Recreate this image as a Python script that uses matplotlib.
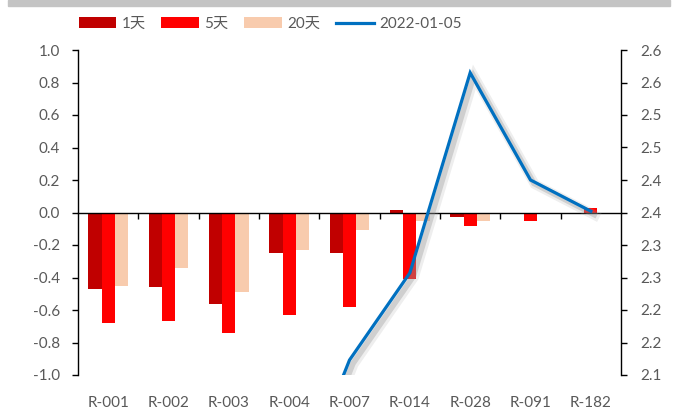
import numpy as np
import matplotlib
matplotlib.use("Agg")
import matplotlib.pyplot as plt
import matplotlib.transforms as mtransforms
import matplotlib.patheffects as pe
from matplotlib.patches import Rectangle

plt.rcParams['font.family'] = ['Lato', 'Noto Sans CJK SC', 'DejaVu Sans']

categories = ['R-001', 'R-002', 'R-003', 'R-004', 'R-007', 'R-014', 'R-028', 'R-091', 'R-182']
chg_1d = [-0.47, -0.46, -0.56, -0.25, -0.25, 0.015, -0.03, -0.005, -0.005]
chg_5d = [-0.68, -0.67, -0.74, -0.63, -0.58, -0.41, -0.08, -0.055, 0.03]
chg_20d = [-0.45, -0.34, -0.49, -0.23, -0.11, -0.05, -0.055, 0.0, 0.0]
rate_20220105 = [1.75, 1.82, 1.86, 1.89, 2.123, 2.257, 2.565, 2.40, 2.352]
series_names = ['1天', '5天', '20天', '2022-01-05']
left_ticks = [-1.0, -0.8, -0.6, -0.4, -0.2, 0.0, 0.2, 0.4, 0.6, 0.8, 1.0]
right_ticks = [2.10, 2.15, 2.20, 2.25, 2.30, 2.35, 2.40, 2.45, 2.50, 2.55, 2.60]
right_tick_labels = ['2.1', '2.2', '2.2', '2.3', '2.3', '2.4', '2.4', '2.5', '2.5', '2.6', '2.6']

c_1d = '#C00000'
c_5d = '#FF0000'
c_20d = '#F8CBAD'
c_line = '#0070C0'
txt = '#595959'
fs = 11

fig = plt.figure(figsize=(6.76, 4.18), dpi=100)
fig.patches.append(Rectangle((8 / 676, 1 - 6 / 418), 662 / 676, 6 / 418,
                             transform=fig.transFigure, color='#C4C4C4', zorder=0))

ax = fig.add_axes([78 / 676, 1 - 375 / 418, (621 - 78) / 676, (375 - 50) / 418])
x = np.arange(len(categories))
w = 0.22
b1 = ax.bar(x - w, chg_1d, w, color=c_1d, label=series_names[0], zorder=2)
b2 = ax.bar(x, chg_5d, w, color=c_5d, label=series_names[1], zorder=2)
b3 = ax.bar(x + w, chg_20d, w, color=c_20d, label=series_names[2], zorder=2)
ax.set_xlim(-0.5, len(categories) - 0.5)
ax.set_ylim(-1.0, 1.0)
ax.set_yticks(left_ticks)
ax.set_yticklabels([f'{v:.1f}' for v in left_ticks])
ax.spines['top'].set_visible(False)
ax.spines['right'].set_visible(False)
ax.spines['bottom'].set_position(('data', 0))
ax.spines['bottom'].set_zorder(3)
for s in ['left', 'bottom']:
    ax.spines[s].set_color('black')
    ax.spines[s].set_linewidth(1.0)
ax.set_xticks(np.arange(0.5, len(categories) - 0.5, 1.0))
ax.set_xticklabels([])
ax.tick_params(axis='x', direction='out', length=4, width=1, color='black')
ax.tick_params(axis='y', direction='out', length=4, width=1, color='black',
               labelcolor=txt, labelsize=fs, pad=9)
trans = mtransforms.blended_transform_factory(ax.transData, ax.transAxes)
for i, c in enumerate(categories):
    ax.text(i, -0.087, c, transform=trans, ha='center', va='center',
            color=txt, fontsize=fs)

ax2 = ax.twinx()
ax2.set_ylim(2.10, 2.60)
ax2.set_yticks(right_ticks)
ax2.set_yticklabels(right_tick_labels)
for s in ['left', 'top', 'bottom']:
    ax2.spines[s].set_visible(False)
ax2.spines['right'].set_color('black')
ax2.spines['right'].set_linewidth(1.0)
ax2.tick_params(axis='y', direction='out', length=4, width=1, color='black',
                labelcolor=txt, labelsize=fs, pad=10)
ln, = ax2.plot(x, rate_20220105, color=c_line, lw=2.3, label=series_names[3],
               solid_joinstyle='miter', zorder=5,
               path_effects=[pe.SimpleLineShadow(offset=(3.0, -3.0), shadow_color='#aaaaaa', alpha=0.2, linewidth=7),
                             pe.SimpleLineShadow(offset=(2.5, -2.5), shadow_color='#888888', alpha=0.3, linewidth=4),
                             pe.Normal()])

leg = fig.legend([b1, b2, b3, ln], series_names, loc='center', bbox_to_anchor=(270 / 676, 1 - 24 / 418),
                 ncol=4, frameon=False, fontsize=fs, handlelength=2.45, handleheight=0.75,
                 handletextpad=0.35, columnspacing=1.05, labelcolor=txt)
for h in leg.legend_handles[3:]:
    h.set_path_effects([])

fig.savefig('out.png', dpi=100)
